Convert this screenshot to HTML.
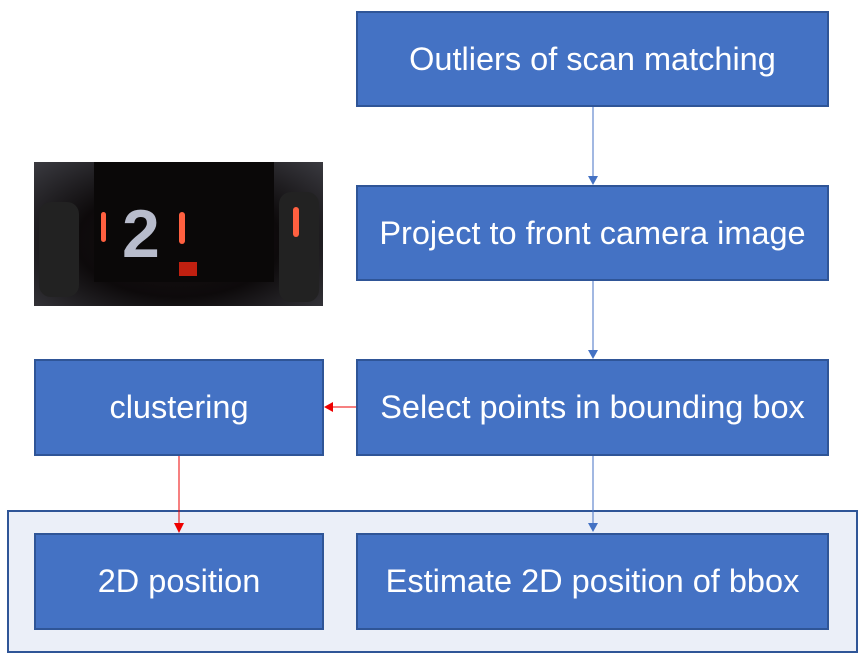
<!DOCTYPE html>
<html><head><style>
body{margin:0;width:865px;height:668px;background:#fff;position:relative;overflow:hidden;font-family:"Liberation Sans",sans-serif}
.b{position:absolute;background:#4472C4;border:2px solid #2F5597;box-sizing:border-box;color:#fff;font-size:32.5px;display:flex;align-items:center;justify-content:center;white-space:nowrap}
</style></head><body>
<div style="position:absolute;left:7px;top:510px;width:851px;height:143px;background:#EBEFF8;border:2px solid #2F5597;box-sizing:border-box"></div>
<div style="position:absolute;left:34px;top:162px;width:289px;height:144px;background:radial-gradient(ellipse at 50% 55%,#1a1214 0%,#0d0a0b 50%,#3a3a40 100%);overflow:hidden">
<div style="position:absolute;left:60px;top:0px;width:180px;height:120px;background:#0a0808"></div>
<div style="position:absolute;left:5px;top:40px;width:40px;height:95px;background:#222;border-radius:12px"></div>
<div style="position:absolute;left:245px;top:30px;width:40px;height:110px;background:#222;border-radius:12px"></div>
<div style="position:absolute;left:88px;top:38px;color:#b8bccc;font-size:68px;font-weight:bold;line-height:1">2</div>
<div style="position:absolute;left:67px;top:50px;width:5px;height:30px;background:#ff6040;border-radius:3px"></div>
<div style="position:absolute;left:145px;top:50px;width:6px;height:32px;background:#ff6040;border-radius:3px"></div>
<div style="position:absolute;left:259px;top:45px;width:6px;height:30px;background:#ff6040;border-radius:3px"></div>
<div style="position:absolute;left:145px;top:100px;width:18px;height:14px;background:#c02010"></div>
</div>
<div class="b" style="left:356px;top:11px;width:473px;height:96px">Outliers of scan matching</div>
<div class="b" style="left:356px;top:185px;width:473px;height:96px">Project to front camera image</div>
<div class="b" style="left:356px;top:359px;width:473px;height:97px">Select points in bounding box</div>
<div class="b" style="left:34px;top:359px;width:290px;height:97px">clustering</div>
<div class="b" style="left:34px;top:533px;width:290px;height:97px">2D position</div>
<div class="b" style="left:356px;top:533px;width:473px;height:97px">Estimate 2D position of bbox</div>
<svg width="865" height="668" style="position:absolute;left:0;top:0">
<g stroke="#4472C4" stroke-width="1"><line x1="593" y1="107" x2="593" y2="178"/><line x1="593" y1="281" x2="593" y2="352"/><line x1="593" y1="456" x2="593" y2="526"/></g>
<g fill="#4472C4"><polygon points="588,176 598,176 593,185"/><polygon points="588,350 598,350 593,359"/><polygon points="588,523 598,523 593,532"/></g>
<g stroke="#e00" stroke-width="1"><line x1="179" y1="456" x2="179" y2="526"/><line x1="356" y1="407" x2="330" y2="407"/></g>
<g fill="#e00"><polygon points="174,523 184,523 179,533"/><polygon points="333,402 333,412 324,407"/></g>
</svg>
</body></html>
